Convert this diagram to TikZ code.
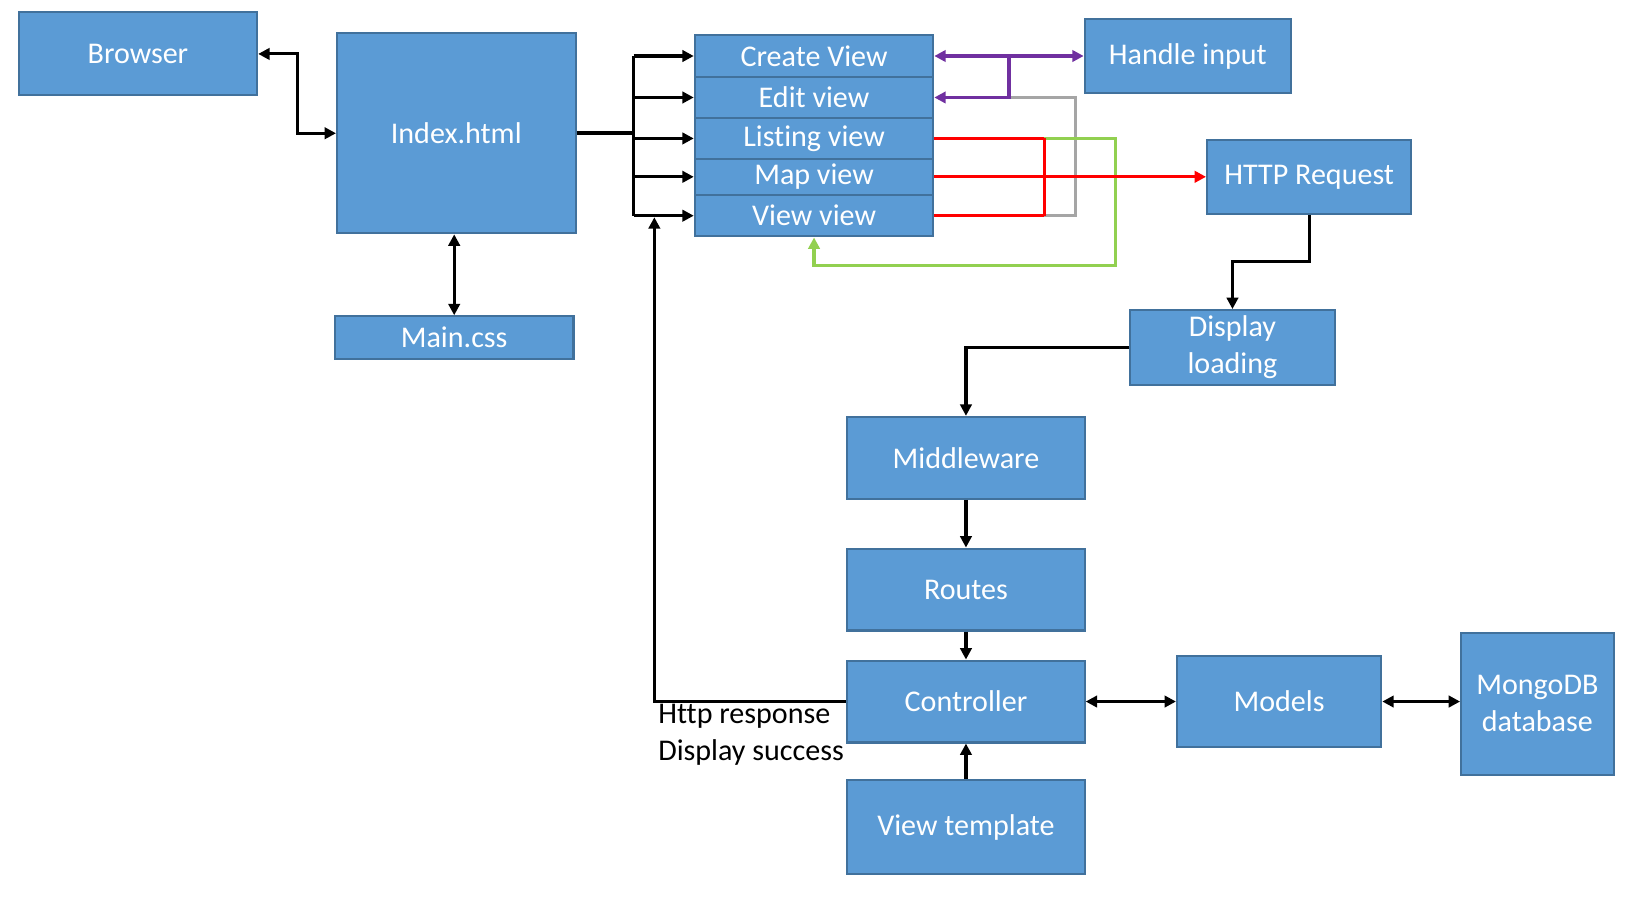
\documentclass[tikz,border=0pt]{standalone}
\usepackage{fontspec}
\setmainfont{Carlito}[Ligatures=NoCommon]
\usepackage{tikz}
\usetikzlibrary{arrows.meta,calc}

\definecolor{boxfill}{HTML}{5B9BD5}
\definecolor{boxline}{HTML}{41719C}
\definecolor{purplec}{HTML}{7030A0}
\definecolor{redc}{HTML}{FF0000}
\definecolor{grayc}{HTML}{A5A5A5}
\definecolor{greenc}{HTML}{92D050}

\tikzset{
  box/.style={draw=boxline, fill=boxfill, line width=2pt, text=white, inner sep=0pt,
    align=center, font=\fontsize{29}{36}\selectfont},
  lbl/.style={align=left, inner sep=2pt, font=\fontsize{29}{36}\selectfont},
  conn/.style={line width=3pt}
}

\begin{document}
\begin{tikzpicture}[x=1pt, y=-1pt, >={Triangle[length=11pt,width=11pt]}]
	\useasboundingbox (0,0) rectangle (1568,879);

	% client side
	\node[box, minimum width=230pt, minimum height=80pt]  (browser) at (133,52)    {Browser};
	\node[box, minimum width=230pt, minimum height=193pt] (index)   at (440,128.5) {Index.html};
	\node[box, minimum width=230pt, minimum height=41pt]  (maincss) at (438,325.5) {Main.css};

	% views
	\node[box, minimum width=230pt, minimum height=40pt] (create)  at (785,54)    {Create View};
	\node[box, minimum width=230pt, minimum height=40pt] (edit)    at (785,94)    {Edit view};
	\node[box, minimum width=230pt, minimum height=39pt] (listing) at (785,133.5) {Listing view};
	\node[box, minimum width=230pt, minimum height=35pt] (mapv)    at (785,170.5) {Map view};
	\node[box, minimum width=230pt, minimum height=40pt] (viewv)   at (785,208)   {View view};

	\node[box, minimum width=199pt, minimum height=72pt] (handle)  at (1145.5,54)  {Handle input};
	\node[box, minimum width=197pt, minimum height=71pt] (http)    at (1262.5,170.5) {HTTP Request};
	\node[box, minimum width=197pt, minimum height=72pt] (loading) at (1188.5,335) {Display\\loading};

	% server side
	\node[box, minimum width=229pt, minimum height=79pt] (middleware) at (931.5,441.5) {Middleware};
	\node[box, minimum width=229pt, minimum height=79pt] (routes)     at (931.5,568.5) {Routes};
	\node[box, minimum width=229pt, minimum height=79pt] (controller) at (931.5,676.5) {Controller};
	\node[box, minimum width=229pt, minimum height=91pt] (template)   at (931.5,797.5) {View template};
	\node[box, minimum width=197pt, minimum height=87pt] (models)     at (1233.5,676.5) {Models};
	\node[box, minimum width=147pt, minimum height=137pt] (mongo)     at (1482.5,678.5) {MongoDB\\database};

	\node[lbl, anchor=north east] (resp) at (controller.west) {Http response\\Display success};

	% helper points
	\coordinate (bus)  at (611,128.5);
	\coordinate (back) at (631,209.5);
	\coordinate (pj)   at ($(create.east)!.5!(create.east -| handle.west)$);
	\coordinate (rj)   at (1007,0);
	\coordinate (gj)   at (1037,0);
	\coordinate (gr)   at (1076,256);

	% black connectors
	\draw[conn, <->] (browser.east) -- ++(38,0) |- (index.west);
	\draw[conn, <->] (maincss.north) -- (maincss.north |- index.south);
	\draw[line width=4pt] (index.east) -- (bus);
	\draw[conn] (bus |- create.west) -- (bus |- viewv.west);
	\foreach \v in {create,edit,listing,mapv,viewv}
		\draw[conn, ->] (bus |- \v.west) -- (\v.west);
	\draw[conn, ->] (controller.west) -| (back);
	\draw[conn, ->] (http.south) -- ++(0,45) -| (loading.north);
	\draw[conn, ->] (loading.west) -| (middleware.north);
	\draw[conn, ->] (middleware) -- (routes);
	\draw[conn, ->] (routes) -- (controller);
	\draw[conn, ->] (template) -- (controller);
	\draw[conn, <->] (controller) -- (models);
	\draw[conn, <->] (models.east) -- (models.east -| mongo.west);

	% coloured connectors
	\draw[conn, grayc] (pj |- edit.east) -- (gj |- edit.east) -- (gj |- viewv.east) -- (rj |- viewv.east);
	\draw[conn, greenc, ->] (rj |- listing.east) -| (gr) -| (viewv.south);
	\draw[conn, purplec, <->] (create.east) -- (create.east -| handle.west);
	\draw[conn, purplec, ->] (pj) |- (edit.east);
	\foreach \v in {listing,viewv}
		\draw[conn, redc] (\v.east) -- (rj |- \v.east);
	\draw[conn, redc] (rj |- listing.east) -- (rj |- viewv.east);
	\draw[conn, redc, ->] (mapv.east) -- (http.west);

\end{tikzpicture}
\end{document}
